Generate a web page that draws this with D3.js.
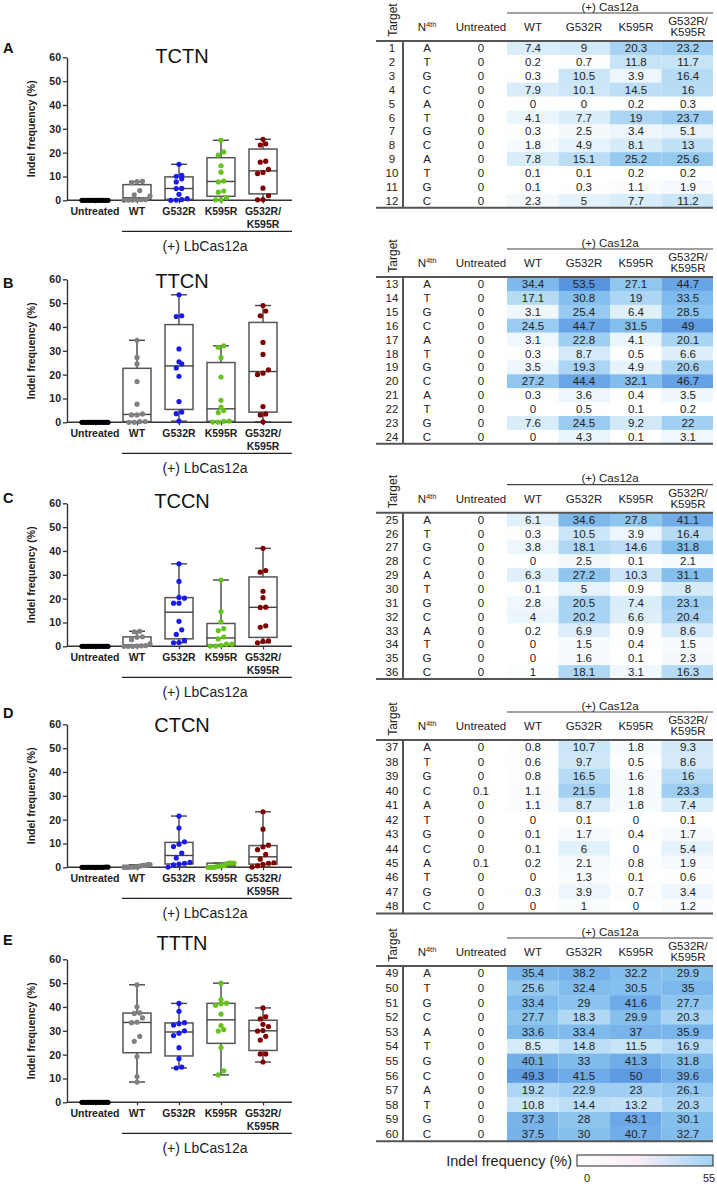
<!DOCTYPE html>
<html><head><meta charset="utf-8">
<script src="https://cdn.jsdelivr.net/npm/d3@7"></script>
<style>body{margin:0;background:#fff} svg{display:block}</style>
</head><body>
<svg id="chart" width="717" height="1185"></svg>
<script>
// ---------------- DATA ----------------
const panelLetters = ["A","B","C","D","E"];
const motifs = ["TCTN","TTCN","TCCN","CTCN","TTTN"];
const groups = ["Untreated","WT","G532R","K595R","G532R/K595R"];
const nucleotides = ["A","T","G","C"];
const yTicks = [0,10,20,30,40,50,60];
const legendTicks = [0,55];

const untreated = [
  [0,0,0,0,0,0,0,0,0,0,0,0],
  [0,0,0,0,0,0,0,0,0,0,0,0],
  [0,0,0,0,0,0,0,0,0,0,0,0],
  [0,0,0,0.1,0,0,0,0,0.1,0,0,0],
  [0,0,0,0,0,0,0,0,0,0,0,0]
];
const wt = [
  [7.4,0.2,0.3,7.9,0,4.1,0.3,1.8,7.8,0.1,0.1,2.3],
  [34.4,17.1,3.1,24.5,3.1,0.3,3.5,27.2,0.3,0,7.6,0],
  [6.1,0.3,3.8,0,6.3,0.1,2.8,4,0.2,0,0,1],
  [0.8,0.6,0.8,1.1,1.1,0,0.1,0.1,0.2,0,0.3,0],
  [35.4,25.6,33.4,27.7,33.6,8.5,40.1,49.3,19.2,10.8,37.3,37.5]
];
const g532r = [
  [9,0.7,10.5,10.1,0,7.7,2.5,4.9,15.1,0.1,0.3,5],
  [53.5,30.8,25.4,44.7,22.8,8.7,19.3,44.4,3.6,0.5,24.5,4.3],
  [34.6,10.5,18.1,2.5,27.2,5,20.5,20.2,6.9,1.5,1.6,18.1],
  [10.7,9.7,16.5,21.5,8.7,0.1,1.7,6,2.1,1.3,3.9,1],
  [38.2,32.4,29,18.3,33.4,14.8,33,41.5,22.9,14.4,28,30]
];
const k595r = [
  [20.3,11.8,3.9,14.5,0.2,19,3.4,8.1,25.2,0.2,1.1,7.7],
  [27.1,19,6.4,31.5,4.1,0.5,4.9,32.1,0.4,0.1,9.2,0.1],
  [27.8,3.9,14.6,0.1,10.3,0.9,7.4,6.6,0.9,0.4,0.1,3.1],
  [1.8,0.5,1.6,1.8,1.8,0,0.4,0,0.8,0.1,0.7,0],
  [32.2,30.5,41.6,29.9,37,11.5,41.3,50,23,13.2,43.1,40.7]
];
const g532rK595r = [
  [23.2,11.7,16.4,16,0.3,23.7,5.1,13,25.6,0.2,1.9,11.2],
  [44.7,33.5,28.5,49,20.1,6.6,20.6,46.7,3.5,0.2,22,3.1],
  [41.1,16.4,31.8,2.1,31.1,8,23.1,20.4,8.6,1.5,2.3,16.3],
  [9.3,8.6,16,23.3,7.4,0.1,1.7,5.4,1.9,0.6,3.4,1.2],
  [29.9,35,27.7,20.3,35.9,16.9,31.8,39.6,26.1,20.3,30.1,32.7]
];
const seriesByGroup = [untreated, wt, g532r, k595r, g532rK595r];

// ---------------- LAYOUT / STYLE ----------------
const FONT = "'Liberation Sans', Arial, Helvetica, sans-serif";
const dotColors = ["#000000","#808080","#1a1aee","#66c21e","#800000"];
const layout = {
  zero:   [200.3, 422.3, 646.3, 867.3, 1102.3],
  title:  [63, 288, 508, 732, 950],
  letter: [53, 288, 503, 718, 945],
  tTop:   [41, 277, 512.7, 740, 966],
  rowH:   [13.9, 13.9, 13.85, 14.45, 14.6]
};
const plotH = 143;
const axisX0 = 67, axisX1 = 292;

const svg = d3.select("#chart").style("font-family", FONT);

function quantilePrism(sorted, p) {
  const n = sorted.length, pos = p * (n + 1);
  if (pos <= 1) return sorted[0];
  if (pos >= n) return sorted[n - 1];
  const i = Math.floor(pos), f = pos - i;
  return sorted[i - 1] + f * (sorted[i] - sorted[i - 1]);
}
function swarm(values, y, dia, maxHalf) {
  const idx = values.map((v, i) => i).sort((a, b) => values[a] - values[b]);
  const rows = []; let cur = null;
  idx.forEach(i => {
    const py = y(values[i]);
    if (cur && Math.abs(py - cur.y) < dia) cur.items.push(i);
    else { cur = {y: py, items: [i]}; rows.push(cur); }
  });
  const off = new Array(values.length).fill(0);
  rows.forEach(r => {
    const n = r.items.length; if (n === 1) return;
    const sp = Math.min(dia * 1.05, 2 * maxHalf / (n - 1));
    r.items.forEach((i, k) => off[i] = (k - (n - 1) / 2) * sp);
  });
  return off;
}

const heat = d3.scaleLinear().domain([0, 10, 30, 55])
  .range(["#ffffff", "#cde7f8", "#86c1ee", "#5592e0"]);

panelLetters.forEach((letter, p) => {
  const y0 = layout.zero[p];
  const y = d3.scaleLinear().domain([0, 60]).range([y0, y0 - plotH]);
  const x = d3.scalePoint().domain(groups).range([95, 263]);
  const g = svg.append("g");

  // letter + title
  g.append("text").attr("x", 3).attr("y", layout.letter[p]).attr("font-size", 14.5)
    .attr("font-weight", "bold").attr("fill", "#111").text(letter);
  g.append("text").attr("x", 182).attr("y", layout.title[p]).attr("font-size", 20)
    .attr("text-anchor", "middle").attr("fill", "#111").text(motifs[p]);

  // y axis
  const ya = g.append("g").attr("transform", `translate(${axisX0},0)`)
    .call(d3.axisLeft(y).tickValues(yTicks).tickSize(4).tickSizeOuter(0).tickPadding(2));
  ya.select(".domain").attr("stroke", "#333").attr("stroke-width", 1.4);
  ya.selectAll(".tick line").attr("stroke", "#333").attr("stroke-width", 1.3);
  ya.selectAll(".tick text").attr("font-family", FONT).attr("font-size", 10.5)
    .attr("font-weight", "bold").attr("fill", "#222");
  g.append("text").attr("transform", `translate(31,${y0 - plotH / 2}) rotate(-90)`)
    .attr("text-anchor", "middle").attr("dy", "0.35em").attr("font-size", 10.5)
    .attr("font-weight", "bold").attr("fill", "#222").text("Indel frequency (%)");

  // x axis
  const xa = g.append("g").attr("transform", `translate(0,${y0})`)
    .call(d3.axisBottom(x).tickSize(3).tickFormat(""));
  xa.select(".domain").remove();
  xa.selectAll(".tick line").attr("stroke", "#333").attr("stroke-width", 1.3);
  g.append("line").attr("x1", axisX0).attr("x2", axisX1).attr("y1", y0).attr("y2", y0)
    .attr("stroke", "#333").attr("stroke-width", 1.4);
  groups.forEach(gr => {
    const parts = gr.includes("/") ? [gr.split("/")[0] + "/", gr.split("/")[1]] : [gr];
    parts.forEach((t, k) => g.append("text").attr("x", x(gr)).attr("y", y0 + 15 + k * 13)
      .attr("text-anchor", "middle").attr("font-size", 10.5).attr("font-weight", "bold")
      .attr("fill", "#222").text(t));
  });
  // bracket
  g.append("line").attr("x1", x("WT") - 15).attr("x2", axisX1)
    .attr("y1", y0 + 31).attr("y2", y0 + 31).attr("stroke", "#222").attr("stroke-width", 1.3);
  g.append("text").attr("x", 205).attr("y", y0 + 51).attr("text-anchor", "middle")
    .attr("font-size", 14).attr("fill", "#222").text("(+) LbCas12a");

  // boxes + dots
  groups.forEach((gr, gi) => {
    const vals = seriesByGroup[gi][p];
    const s = vals.slice().sort((a, b) => a - b);
    const q1 = quantilePrism(s, 0.25), med = quantilePrism(s, 0.5), q3 = quantilePrism(s, 0.75);
    const mn = s[0], mx = s[s.length - 1];
    const cx = x(gr), bw = 28, cw = 16;
    const bg = g.append("g").attr("fill", "none");
    bg.append("line").attr("x1", cx).attr("x2", cx).attr("y1", y(q3)).attr("y2", y(mx))
      .attr("stroke", "#444").attr("stroke-width", 1.4);
    bg.append("line").attr("x1", cx).attr("x2", cx).attr("y1", y(q1)).attr("y2", y(mn))
      .attr("stroke", "#444").attr("stroke-width", 1.4);
    [mn, mx].forEach(v => bg.append("line").attr("x1", cx - cw / 2).attr("x2", cx + cw / 2)
      .attr("y1", y(v)).attr("y2", y(v)).attr("stroke", "#444").attr("stroke-width", 1.4));
    bg.append("rect").attr("x", cx - bw / 2).attr("width", bw).attr("y", y(q3))
      .attr("height", Math.max(0, y(q1) - y(q3))).attr("stroke", "#555").attr("stroke-width", 1.5);
    bg.append("line").attr("x1", cx - bw / 2).attr("x2", cx + bw / 2).attr("y1", y(med)).attr("y2", y(med))
      .attr("stroke", "#444").attr("stroke-width", 1.4);
    const off = swarm(vals, y, 5.2, 13);
    g.append("g").selectAll("circle").data(vals).join("circle")
      .attr("cx", (d, i) => cx + off[i]).attr("cy", d => y(d)).attr("r", 2.6)
      .attr("fill", dotColors[gi]);
  });

  // ---------------- TABLE ----------------
  const top = layout.tTop[p], rh = layout.rowH[p];
  const t = svg.append("g").attr("font-size", 11.5).attr("fill", "#222");
  const edges = [507, 558.5, 610, 661.5, 713];
  const centers = [533, 584, 636, 688];
  const cas = [wt, g532r, k595r, g532rK595r];
  const targets = d3.range(p * 12 + 1, p * 12 + 13);
  targets.forEach((tg, r) => {
    const ry = top + r * rh, cy = ry + rh / 2;
    cas.forEach((ser, c) => {
      t.append("rect").attr("x", edges[c]).attr("y", ry).attr("width", edges[c + 1] - edges[c])
        .attr("height", rh + 0.3).attr("fill", heat(ser[p][r]));
    });
    t.append("text").attr("x", 392).attr("y", cy).attr("dy", "0.36em").attr("text-anchor", "middle").text(tg);
    t.append("text").attr("x", 427).attr("y", cy).attr("dy", "0.36em").attr("text-anchor", "middle").text(nucleotides[r % 4]);
    t.append("text").attr("x", 481).attr("y", cy).attr("dy", "0.36em").attr("text-anchor", "middle").text(untreated[p][r]);
    cas.forEach((ser, c) => {
      t.append("text").attr("x", centers[c]).attr("y", cy).attr("dy", "0.36em")
        .attr("text-anchor", "middle").text(ser[p][r]);
    });
  });
  const bottom = top + 12 * rh;
  [top, bottom].forEach(yy => t.append("line").attr("x1", 376).attr("x2", 713)
    .attr("y1", yy).attr("y2", yy).attr("stroke", "#555").attr("stroke-width", 2));
  t.append("line").attr("x1", 403).attr("x2", 403).attr("y1", top).attr("y2", bottom)
    .attr("stroke", "#555").attr("stroke-width", 2);
  t.append("line").attr("x1", 507).attr("x2", 713).attr("y1", top - 28).attr("y2", top - 28)
    .attr("stroke", "#444").attr("stroke-width", 1.2);
  t.append("text").attr("x", 610).attr("y", top - 34.5).attr("dy", "0.36em")
    .attr("text-anchor", "middle").text("(+) Cas12a");
  t.append("text").attr("transform", `translate(393,${top - 21}) rotate(-90)`)
    .attr("dy", "0.36em").attr("text-anchor", "middle").attr("font-size", 12).text("Target");
  const nh = t.append("text").attr("x", 427).attr("y", top - 14).attr("dy", "0.36em")
    .attr("text-anchor", "middle");
  nh.append("tspan").text("N");
  nh.append("tspan").attr("font-size", 7.5).attr("dy", "-0.55em").text("4th");
  ["Untreated", "WT", "G532R", "K595R"].forEach((h, k) =>
    t.append("text").attr("x", [481, 533, 584, 636][k]).attr("y", top - 14).attr("dy", "0.36em")
      .attr("text-anchor", "middle").text(h));
  ["G532R/", "K595R"].forEach((h, k) =>
    t.append("text").attr("x", 688).attr("y", top - 20 + k * 11).attr("dy", "0.36em")
      .attr("text-anchor", "middle").text(h));
});

// ---------------- LEGEND ----------------
const defs = svg.append("defs");
const grad = defs.append("linearGradient").attr("id", "lg");
[["0%", "#ffffff"], ["45%", "#f9edf7"], ["100%", "#9fd3f5"]].forEach(([o, c]) =>
  grad.append("stop").attr("offset", o).attr("stop-color", c));
svg.append("text").attr("x", 572).attr("y", 1161).attr("dy", "0.36em").attr("text-anchor", "end")
  .attr("font-size", 14.5).attr("fill", "#222").text("Indel frequency (%)");
svg.append("rect").attr("x", 577).attr("y", 1155).attr("width", 136).attr("height", 11)
  .attr("fill", "url(#lg)").attr("stroke", "#111").attr("stroke-width", 0.9);
const lx = d3.scaleLinear().domain([0, 55]).range([587, 709]);
legendTicks.forEach(v => svg.append("text").attr("x", lx(v)).attr("y", 1182)
  .attr("text-anchor", "middle").attr("font-size", 11).attr("fill", "#222").text(v));
</script>
</body></html>
